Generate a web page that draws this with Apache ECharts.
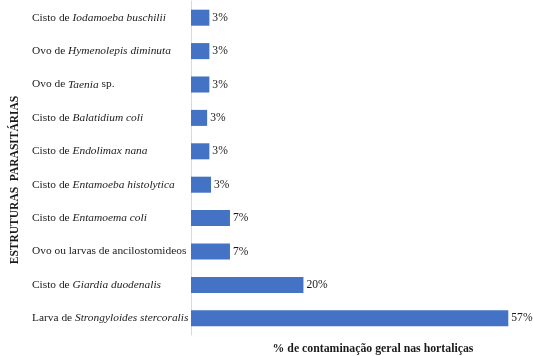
<!DOCTYPE html>
<html>
<head>
<meta charset="utf-8">
<script src="https://cdn.jsdelivr.net/npm/echarts@6/dist/echarts.min.js"></script>
<style>
  html, body { margin: 0; padding: 0; background: #fff; }
  #container { width: 533px; height: 356px; }
</style>
</head>
<body>
<div id="container"></div>
<script>
// categorias de cima para baixo
var categories = [
  'Cisto de Iodamoeba buschilii',
  'Ovo de Hymenolepis diminuta',
  'Ovo de Taenia sp.',
  'Cisto de Balatidium coli',
  'Cisto de Endolimax nana',
  'Cisto de Entamoeba histolytica',
  'Cisto de Entamoema coli',
  'Ovo ou larvas de ancilostomideos',
  'Cisto de Giardia duodenalis',
  'Larva de Strongyloides stercoralis'
];
// parte do nome em itálico
var italicParts = [
  'Iodamoeba buschilii',
  'Hymenolepis diminuta',
  'Taenia',
  'Balatidium coli',
  'Endolimax nana',
  'Entamoeba histolytica',
  'Entamoema coli',
  '',
  'Giardia duodenalis',
  'Strongyloides stercoralis'
];
var values = [3.3, 3.3, 3.3, 2.9, 3.3, 3.6, 7.0, 7.0, 20.2, 57.0];
var valueLabels = ['3%', '3%', '3%', '3%', '3%', '3%', '7%', '7%', '20%', '57%'];

var serif = '"Liberation Serif", "DejaVu Serif", serif';

function richName(label) {
  var idx = categories.indexOf(label);
  var it = italicParts[idx];
  if (!it) return '{n|' + label + '}';
  var p = label.indexOf(it);
  var before = label.substring(0, p);
  var after = label.substring(p + it.length);
  var s = '{n|' + before + '}{i|' + it + '}';
  if (after) s += '{n|' + after + '}';
  return s;
}

var myChart = echarts.init(document.getElementById('container'), null, { renderer: 'canvas' });
var option = {
  animation: false,
  backgroundColor: '#ffffff',
  grid: { left: 191, right: 8, top: 1, bottom: 21, containLabel: false, outerBoundsMode: 'none' },
  xAxis: {
    type: 'value',
    min: 0,
    max: 60,
    axisLine: { show: false },
    axisTick: { show: false },
    axisLabel: { show: false },
    splitLine: { show: false },
    name: '% de contaminação geral nas hortaliças',
    nameLocation: 'middle',
    nameGap: 8,
    nameTextStyle: {
      fontFamily: serif, fontWeight: 'bold', fontSize: 11.8, color: '#1a1a1a',
      verticalAlign: 'top',
      padding: [0, 0, 0, 30]
    }
  },
  yAxis: {
    type: 'category',
    inverse: true,
    data: categories,
    axisLine: { show: true, lineStyle: { color: '#d9d9d9', width: 1 } },
    axisTick: { show: false },
    axisLabel: {
      align: 'left',
      margin: 159,
      formatter: richName,
      rich: {
        n: { fontFamily: serif, fontSize: 11.4, lineHeight: 14, verticalAlign: 'middle', color: '#1a1a1a' },
        i: { fontFamily: serif, fontSize: 11.4, lineHeight: 14, verticalAlign: 'middle', fontStyle: 'italic', color: '#1a1a1a' }
      }
    },
    name: 'ESTRUTURAS  PARASITÁRIAS',
    nameLocation: 'middle',
    nameGap: 170,
    nameTextStyle: {
      fontFamily: serif, fontWeight: 'bold', fontSize: 11.5, color: '#1a1a1a',
      padding: [0, 24, 0, 0]
    }
  },
  series: [{
    type: 'bar',
    data: values,
    barCategoryGap: '52%',
    itemStyle: { color: '#4472C4' },
    label: {
      show: true,
      position: 'right',
      distance: 3,
      fontFamily: serif,
      fontSize: 11.6,
      color: '#1a1a1a',
      formatter: function (p) { return valueLabels[p.dataIndex]; }
    }
  }]
};
myChart.setOption(option);
</script>
</body>
</html>
